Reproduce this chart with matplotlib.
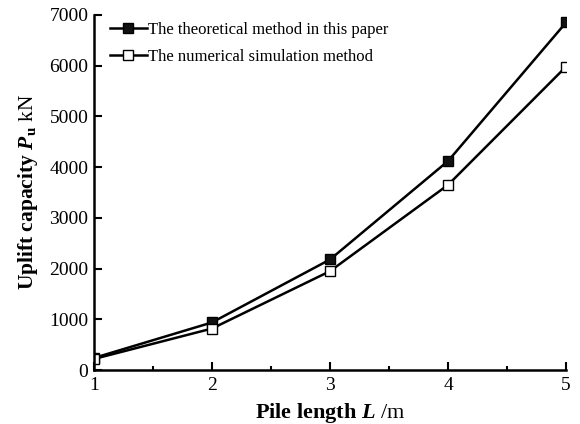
import numpy as np
import matplotlib.pyplot as plt

plt.rcParams['font.family'] = 'Liberation Serif'
plt.rcParams['mathtext.fontset'] = 'custom'
plt.rcParams['mathtext.rm'] = 'Liberation Serif'
plt.rcParams['mathtext.sf'] = 'Liberation Serif:bold'
plt.rcParams['mathtext.bf'] = 'Liberation Serif:bold:italic'
plt.rcParams['mathtext.it'] = 'Liberation Serif:italic'

# --- データ ---
pile_length = [1, 2, 3, 4, 5]
theoretical = [240, 940, 2180, 4120, 6850]
numerical = [220, 820, 1950, 3650, 5980]

fig = plt.figure(figsize=(5.8, 4.24), dpi=100)
ax = fig.add_axes([0.162, 0.127, 0.814, 0.838])

ax.plot(pile_length, theoretical, '-s', color='black', lw=1.8,
        ms=7, mfc='#111111', mec='black', mew=1.0,
        label='The theoretical method in this paper')
ax.plot(pile_length, numerical, '-s', color='black', lw=1.8,
        ms=7, mfc='white', mec='black', mew=1.0,
        label='The numerical simulation method')

ax.set_xlim(1, 5)
ax.set_ylim(0, 7000)
ax.set_xticks([1, 2, 3, 4, 5])
ax.set_xticks([1.5, 2.5, 3.5, 4.5], minor=True)
ax.set_yticks(np.arange(0, 7001, 1000))

for s in ['top', 'right']:
    ax.spines[s].set_visible(False)
for s in ['left', 'bottom']:
    ax.spines[s].set_linewidth(1.8)

ax.tick_params(which='major', direction='in', length=6, width=1.5, labelsize=14)
ax.tick_params(which='minor', direction='in', length=3, width=1.5)
ax.tick_params(axis='x', pad=5)
ax.tick_params(axis='y', pad=4)

ax.set_xlabel(r'$\mathsf{Pile\ length}$ $\mathbf{L}$ /m', fontsize=16, labelpad=5)
ax.set_ylabel(r'$\mathsf{Uplift\ capacity}$ $\mathbf{P}_{\mathsf{u}}$ kN', fontsize=15.5, labelpad=7)

ax.legend(loc='upper left', frameon=False, fontsize=12, handlelength=2.2,
          handletextpad=0.1, labelspacing=0.7, borderaxespad=0.0,
          bbox_to_anchor=(0.02, 1.0))

fig.savefig('out.png', dpi=100)
